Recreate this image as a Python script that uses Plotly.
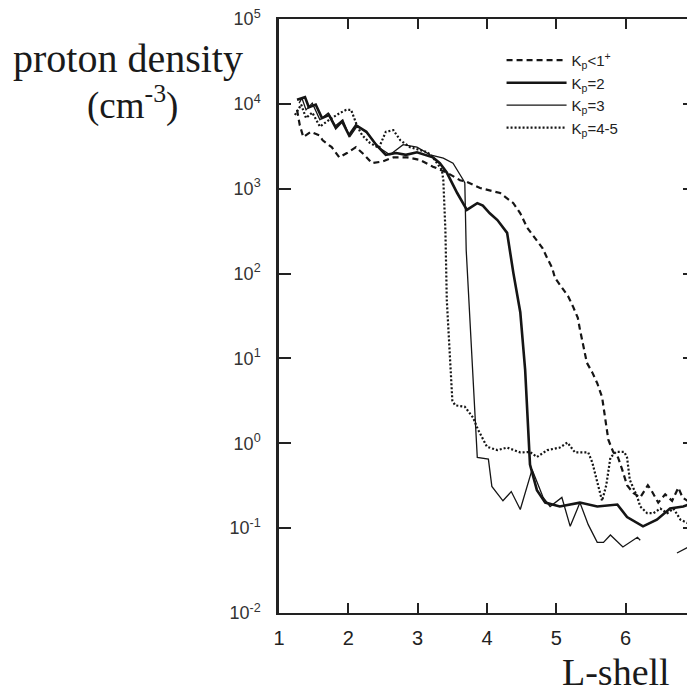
import plotly.graph_objects as go

# ---- data ----
kp1_L = [1.26, 1.30, 1.35, 1.46, 1.58, 1.63, 1.76, 1.87, 1.98, 2.11, 2.23, 2.34, 2.49, 2.65, 2.85,
         3.03, 3.22, 3.42, 3.61, 3.71, 3.90, 4.19, 4.38, 4.48, 4.58, 4.69, 4.80, 4.87, 4.94, 4.98,
         5.08, 5.17, 5.24, 5.31, 5.34, 5.37, 5.44, 5.52, 5.59, 5.66, 5.70, 5.75, 5.82, 5.89, 5.95,
         6.02, 6.11, 6.21, 6.32, 6.38, 6.47, 6.57, 6.67, 6.76, 6.82, 6.93, 7.0]
kp1_n = [8500, 5600, 4070, 4680, 4270, 3720, 3090, 2340, 2630, 3090, 2510, 2000, 2090, 2340, 2340,
         2190, 1820, 1550, 1260, 1200, 1020, 890, 676, 513, 347, 263, 200, 151, 117, 89,
         68, 54, 41, 30, 22, 16.6, 8.9, 6.8, 5.1, 3.5, 2.0, 1.1, 0.79, 0.68, 0.49,
         0.32, 0.26, 0.23, 0.32, 0.27, 0.20, 0.25, 0.21, 0.30, 0.23, 0.20, 0.21]

kp2_L = [1.26, 1.375, 1.43, 1.53, 1.62, 1.72, 1.82, 1.91, 2.01, 2.11, 2.26, 2.40, 2.54, 2.69, 2.83,
         2.99, 3.22, 3.32, 3.42, 3.57, 3.71, 3.78, 3.86, 3.94, 4.04, 4.15, 4.29, 4.38, 4.48, 4.55,
         4.59, 4.62, 4.72, 4.84, 5.05, 5.34, 5.59, 5.88, 6.02, 6.25, 6.45, 6.64, 6.83, 7.0]
kp2_n = [11200, 12000, 9100, 9800, 6800, 7400, 5200, 6200, 4270, 5600, 4680, 3300, 2510, 2630, 2510,
         2690, 2340, 2000, 1550, 890, 562, 617, 676, 631, 513, 427, 302, 102, 35, 7.4,
         1.45, 0.56, 0.28, 0.20, 0.18, 0.20, 0.18, 0.19, 0.135, 0.105, 0.126, 0.17, 0.18, 0.20]

kp3_L = [1.29, 1.33, 1.39, 1.48, 1.59, 1.71, 1.81, 1.92, 2.02, 2.13, 2.27, 2.43, 2.60, 2.79, 2.99,
         3.18, 3.37, 3.51, 3.66, 3.68, 3.70, 3.76, 3.81, 3.86, 4.02, 4.07, 4.23, 4.35, 4.48, 4.58,
         4.65, 4.81, 4.91, 5.08, 5.20, 5.30, 5.34, 5.46, 5.59, 5.68, 5.78, 5.96, 6.17, 6.21,
         6.45, 6.74, 6.89, 6.97]
kp3_n = [10200, 11700, 8500, 10200, 6500, 7800, 5500, 6500, 4070, 5500, 4570, 3090, 2510, 3300, 3090,
         2510, 2290, 2000, 1260, 1170, 190, 22, 3.2, 0.68, 0.65, 0.31, 0.21, 0.27, 0.166, 0.32,
         0.49, 0.23, 0.18, 0.23, 0.105, 0.166, 0.20, 0.11, 0.068, 0.068, 0.083, 0.060, 0.078, 0.072,
         None, 0.051, 0.059, 0.039]

kp45_L = [1.23, 1.32, 1.39, 1.48, 1.59, 1.76, 1.88, 1.97, 2.04, 2.13, 2.20, 2.31, 2.44, 2.54, 2.65,
          2.75, 2.89, 3.14, 3.22, 3.35, 3.37, 3.40, 3.42, 3.47, 3.50, 3.54, 3.68, 3.80, 3.87, 4.00,
          4.15, 4.29, 4.48, 4.62, 4.72, 4.87, 5.05, 5.16, 5.27, 5.46, 5.52, 5.59, 5.66, 5.72, 5.78,
          5.86, 5.98, 6.02, 6.06, 6.17, 6.21, 6.31, 6.40, 6.50, 6.60, 6.69, 6.79, 6.89, 6.97]
kp45_n = [7400, 9800, 6800, 7900, 5400, 6800, 7800, 8500, 8500, 5400, 4270, 3470, 3020, 4680, 4900,
          3720, 3090, 2690, 2340, 1660, 1260, 324, 49, 7.4, 3.2, 2.8, 2.7, 2.0, 1.45, 0.91,
          0.83, 0.89, 0.78, 0.79, 0.69, 0.83, 0.89, 1.02, 0.78, 0.78, 0.59, 0.35, 0.21, 0.32, 0.68,
          0.79, 0.79, 0.68, 0.37, 0.23, 0.18, 0.15, 0.15, 0.17, 0.15, 0.17, 0.126, 0.115, 0.105]

legend_names = ["K<sub>p</sub>&lt;1<sup>+</sup>", "K<sub>p</sub>=2", "K<sub>p</sub>=3", "K<sub>p</sub>=4-5"]
x_ticks = [1, 2, 3, 4, 5, 6, 7]
y_ticks = [1e-2, 1e-1, 1e0, 1e1, 1e2, 1e3, 1e4, 1e5]
y_ticktext = ["10<sup>-2</sup>", "10<sup>-1</sup>", "10<sup>0</sup>", "10<sup>1</sup>",
              "10<sup>2</sup>", "10<sup>3</sup>", "10<sup>4</sup>", "10<sup>5</sup>"]

INK = "#151515"
fig = go.Figure()
fig.add_trace(go.Scatter(x=kp1_L, y=kp1_n, mode="lines", name=legend_names[0],
                         line=dict(color=INK, width=2.2, dash="6px,4px")))
fig.add_trace(go.Scatter(x=kp2_L, y=kp2_n, mode="lines", name=legend_names[1],
                         line=dict(color=INK, width=2.6)))
fig.add_trace(go.Scatter(x=kp3_L, y=kp3_n, mode="lines", name=legend_names[2],
                         line=dict(color=INK, width=1.3), connectgaps=False))
fig.add_trace(go.Scatter(x=kp45_L, y=kp45_n, mode="lines", name=legend_names[3],
                         line=dict(color=INK, width=2.2, dash="2px,2px")))

# page body has an 8px margin, so the figure is 8px smaller and margins shifted
fig.update_layout(
    width=687, height=686,
    margin=dict(l=271, r=0, t=11, b=81, autoexpand=False),
    paper_bgcolor="white", plot_bgcolor="white",
    showlegend=True,
    legend=dict(x=0.535, y=0.958, xanchor="left", yanchor="top",
                bgcolor="rgba(0,0,0,0)", font=dict(family="Liberation Sans, Arial", size=15, color="#222"),
                tracegroupgap=0, itemwidth=60),
    xaxis=dict(range=[1, 7], tickvals=x_ticks, ticks="inside", ticklen=10, tickwidth=1.5,
               tickcolor="#222", showgrid=False, zeroline=False, showline=True, linewidth=2,
               linecolor="#222", mirror="ticks", automargin=False, ticklabelstandoff=6,
               ticklabeloverflow="allow",
               tickfont=dict(family="Liberation Sans, Arial", size=20, color="#222")),
    yaxis=dict(type="log", range=[-2, 5], tickvals=y_ticks, ticktext=y_ticktext,
               ticks="inside", ticklen=12, tickwidth=1.5, tickcolor="#222", showgrid=False,
               zeroline=False, showline=True, linewidth=2.5, linecolor="#222", mirror="ticks",
               automargin=False, ticklabelstandoff=12, ticklabeloverflow="allow",
               tickfont=dict(family="Liberation Sans, Arial", size=18, color="#333")),
    annotations=[
        dict(text="proton density", xref="paper", yref="paper", x=-0.362, y=0.934,
             xanchor="center", yanchor="middle", showarrow=False,
             font=dict(family="Liberation Serif, Times New Roman", size=40, color="#1a1a1a")),
        dict(text="(cm<sup>-3</sup>)", xref="paper", yref="paper", x=-0.351, y=0.859,
             xanchor="center", yanchor="middle", showarrow=False,
             font=dict(family="Liberation Serif, Times New Roman", size=37, color="#1a1a1a")),
        dict(text="L-shell", xref="paper", yref="paper", x=0.81, y=-0.100,
             xanchor="center", yanchor="middle", showarrow=False,
             font=dict(family="Liberation Serif, Times New Roman", size=38, color="#1a1a1a")),
    ],
)

fig.write_html("out.html")
